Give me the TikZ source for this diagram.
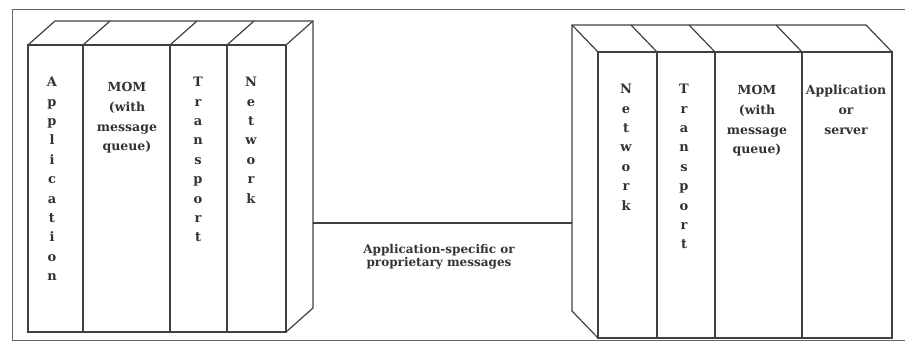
\documentclass[tikz,border=0pt]{standalone}
\usepackage{fontspec}
\setmainfont{DejaVu Serif}
\definecolor{ink}{HTML}{404040}
\definecolor{txt}{HTML}{333333}
\tikzset{
  frameline/.style={draw=ink!80, line width=1pt},
  backline/.style={draw=ink, line width=1.2pt, line join=miter},
  frontbox/.style={draw=ink, line width=2.6pt},
  thickdiv/.style={draw=ink, line width=2.6pt},
  middiv/.style={draw=ink, line width=1.6pt},
  thindiv/.style={draw=ink, line width=1.1pt},
  vtext/.style={anchor=north, inner sep=0pt, align=center, text=txt,
    font=\fontsize{13}{19.4}\selectfont\bfseries},
  htext/.style={anchor=north, inner sep=0pt, align=center, text=txt,
    font=\fontsize{12.5}{19.8}\selectfont\bfseries},
  lbltext/.style={inner sep=0pt, align=center, text=txt,
    font=\fontsize{12}{13.5}\selectfont\bfseries},
  connector/.style={draw=ink, line width=1.1pt}
}
\begin{document}
\begin{tikzpicture}[x=1pt,y=-1pt]
\useasboundingbox (0,0) rectangle (905,347);
% outer frame
\draw[frameline] (905,10) -- (12,10) -- (12,341) -- (905,341);

% ---------- left cube ----------
\draw[backline] (28,45) -- (55,21) -- (313,21) -- (313,308) -- (286,332);
\draw[backline] (286,45) -- (313,21);
\draw[backline] (83,45) -- (110,21);
\draw[backline] (170,45) -- (197,21);
\draw[backline] (227,45) -- (254,21);
\draw[middiv] (83,45) -- (83,332);
\draw[thindiv] (170,45) -- (170,332);
\draw[thickdiv] (227,45) -- (227,332);
\draw[frontbox] (28,45) rectangle (286,332);

\node[vtext] (lapp) at (52,77) {A\\p\\p\\l\\i\\c\\a\\t\\i\\o\\n};
\node[htext] (lmom) at (127,82) {MOM\\(with\\message\\queue)};
\node[vtext] (ltra) at (198,77) {T\\r\\a\\n\\s\\p\\o\\r\\t};
\node[vtext] (lnet) at (251,77) {N\\e\\t\\w\\o\\r\\k};

% ---------- right cube ----------
\draw[backline] (892,52) -- (866,25) -- (572,25) -- (572,311) -- (598,338);
\draw[backline] (598,52) -- (572,25);
\draw[backline] (657,52) -- (631,25);
\draw[backline] (715,52) -- (689,25);
\draw[backline] (802,52) -- (776,25);
\draw[thickdiv] (657,52) -- (657,338);
\draw[thindiv] (715,52) -- (715,338);
\draw[middiv] (802,52) -- (802,338);
\draw[frontbox] (598,52) rectangle (892,338);

\node[vtext] (rnet) at (626,84) {N\\e\\t\\w\\o\\r\\k};
\node[vtext] (rtra) at (684,84) {T\\r\\a\\n\\s\\p\\o\\r\\t};
\node[htext] (rmom) at (757,85) {MOM\\(with\\message\\queue)};
\node[htext] (rapp) at (846,85) {Application\\or\\server};

% ---------- connector ----------
\coordinate (lside) at (313,223);
\coordinate (rside) at (572,223);
\draw[connector] (lside) -- (rside);
\node[lbltext] (msg) at (439,257) {Application-specific or\\proprietary messages};
\end{tikzpicture}
\end{document}
